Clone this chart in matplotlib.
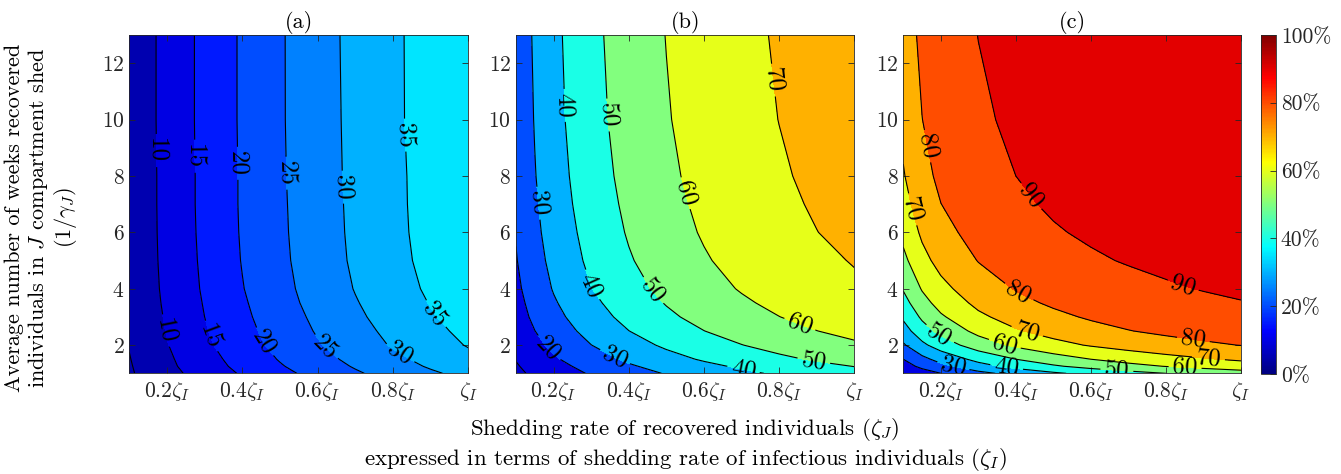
import numpy as np
import matplotlib
matplotlib.use("Agg")
import matplotlib.pyplot as plt
from matplotlib.cm import ScalarMappable
from matplotlib.colors import Normalize, LinearSegmentedColormap

plt.rcParams['font.family'] = 'cmr10'
plt.rcParams['mathtext.fontset'] = 'cm'
plt.rcParams['axes.formatter.use_mathtext'] = True

# shedding rate of J (fraction of zeta_I) and 1/gamma_J in weeks
shed = [0.1, 0.15, 0.2, 0.3, 0.4, 0.5, 0.6, 0.7, 0.8, 0.9, 1.0]
weeks = [1, 1.25, 1.5, 2, 2.5, 3, 3.5, 4, 5, 6, 7, 8, 10, 13]

# values (%), one row per entry of weeks
pct_a = [
    [4.4, 6.5, 8.4, 12.1, 15.5, 18.7, 21.6, 24.4, 26.9, 29.3, 31.5],
    [4.6, 6.8, 8.9, 12.8, 16.3, 19.6, 22.6, 25.4, 28.0, 30.5, 32.8],
    [4.8, 7.1, 9.2, 13.2, 16.9, 20.3, 23.4, 26.2, 28.9, 31.4, 33.7],
    [5.2, 7.6, 9.8, 14.1, 17.9, 21.4, 24.6, 27.6, 30.4, 32.9, 35.3],
    [5.4, 7.9, 10.2, 14.6, 18.5, 22.1, 25.4, 28.4, 31.2, 33.8, 36.2],
    [5.5, 8.1, 10.5, 15.0, 19.0, 22.7, 26.0, 29.1, 32.0, 34.6, 37.0],
    [5.7, 8.3, 10.8, 15.3, 19.4, 23.2, 26.6, 29.7, 32.5, 35.2, 37.6],
    [5.8, 8.5, 11.0, 15.6, 19.8, 23.6, 27.0, 30.2, 33.1, 35.7, 38.2],
    [5.9, 8.7, 11.2, 15.9, 20.2, 24.0, 27.5, 30.7, 33.6, 36.3, 38.7],
    [6.0, 8.8, 11.3, 16.1, 20.4, 24.2, 27.7, 30.9, 33.9, 36.5, 39.0],
    [6.0, 8.8, 11.4, 16.2, 20.5, 24.3, 27.8, 31.0, 34.0, 36.6, 39.1],
    [6.1, 8.8, 11.4, 16.2, 20.5, 24.4, 27.9, 31.1, 34.0, 36.7, 39.2],
    [6.1, 8.9, 11.5, 16.3, 20.6, 24.5, 28.0, 31.2, 34.2, 36.8, 39.3],
    [6.1, 8.9, 11.5, 16.3, 20.6, 24.5, 28.1, 31.3, 34.2, 36.9, 39.4],
]
pct_b = [
    [8.1, 11.7, 15.0, 20.9, 26.0, 30.6, 34.6, 38.1, 41.3, 44.2, 46.8],
    [9.2, 13.2, 16.8, 23.3, 28.8, 33.6, 37.7, 41.4, 44.7, 47.6, 50.2],
    [10.4, 14.8, 18.8, 25.8, 31.7, 36.7, 41.0, 44.8, 48.1, 51.1, 53.7],
    [12.4, 17.6, 22.1, 29.9, 36.2, 41.5, 46.0, 49.8, 53.2, 56.1, 58.7],
    [14.2, 19.9, 24.9, 33.2, 39.9, 45.4, 49.9, 53.7, 57.0, 59.9, 62.4],
    [15.8, 21.9, 27.2, 35.9, 42.8, 48.3, 52.9, 56.7, 59.9, 62.7, 65.2],
    [16.9, 23.4, 29.0, 38.0, 44.9, 50.5, 55.0, 58.8, 62.0, 64.7, 67.1],
    [18.0, 24.8, 30.6, 39.8, 46.8, 52.4, 56.9, 60.6, 63.8, 66.4, 68.8],
    [19.5, 26.6, 32.6, 42.1, 49.2, 54.8, 59.2, 62.9, 65.9, 68.5, 70.4],
    [20.5, 27.9, 34.0, 43.6, 50.8, 56.3, 60.8, 64.4, 67.4, 69.9, 72.1],
    [21.3, 28.8, 35.1, 44.8, 51.9, 57.4, 61.8, 65.4, 68.4, 70.8, 73.0],
    [21.9, 29.6, 35.9, 45.7, 52.8, 58.3, 62.7, 66.2, 69.1, 71.6, 73.7],
    [22.7, 30.5, 37.0, 46.8, 54.0, 59.4, 63.7, 67.2, 70.1, 72.5, 74.6],
    [23.3, 31.3, 37.7, 47.6, 54.8, 60.2, 64.5, 68.0, 70.8, 73.2, 75.2],
]
pct_c = [
    [11.1, 15.8, 20.0, 27.3, 33.3, 38.5, 42.9, 46.7, 50.0, 52.9, 55.6],
    [16.0, 22.2, 27.5, 36.3, 43.2, 48.7, 53.3, 57.1, 60.3, 63.1, 65.5],
    [20.0, 27.3, 33.3, 42.9, 50.0, 55.6, 60.0, 63.6, 66.7, 69.2, 71.4],
    [28.8, 37.8, 44.8, 54.9, 61.8, 66.9, 70.8, 73.9, 76.4, 78.5, 80.2],
    [35.9, 45.7, 52.8, 62.7, 69.1, 73.7, 77.1, 79.7, 81.8, 83.4, 84.8],
    [41.5, 51.6, 58.7, 68.1, 74.0, 78.0, 81.0, 83.3, 85.0, 86.5, 87.7],
    [46.5, 56.6, 63.5, 72.3, 77.7, 81.3, 83.9, 85.9, 87.4, 88.7, 89.7],
    [50.7, 60.7, 67.3, 75.6, 80.5, 83.7, 86.1, 87.8, 89.2, 90.3, 91.2],
    [57.6, 67.1, 73.1, 80.3, 84.5, 87.2, 89.1, 90.5, 91.6, 92.4, 93.2],
    [62.7, 71.6, 77.1, 83.4, 87.0, 89.4, 91.0, 92.2, 93.1, 93.8, 94.4],
    [66.6, 74.9, 79.9, 85.6, 88.8, 90.9, 92.3, 93.3, 94.1, 94.7, 95.2],
    [69.3, 77.2, 81.9, 87.1, 90.0, 91.9, 93.1, 94.1, 94.8, 95.3, 95.8],
    [72.6, 79.9, 84.1, 88.8, 91.4, 93.0, 94.1, 94.9, 95.5, 96.0, 96.4],
    [75.2, 82.0, 85.9, 90.1, 92.4, 93.8, 94.8, 95.5, 96.1, 96.5, 96.8],
]

levels_a = [5, 10, 15, 20, 25, 30, 35]
levels_b = [10, 20, 30, 40, 50, 60, 70]
levels_c = [10, 20, 30, 40, 50, 60, 70, 80, 90]

labels_a = [(0.164, 8.9), (0.19, 2.5), (0.27, 8.7), (0.314, 2.3), (0.385, 8.45),
            (0.451, 2.06), (0.518, 8.1), (0.615, 1.83), (0.66, 7.6), (0.814, 1.6),
            (0.832, 9.45), (0.916, 3.13)]
labels_b = [(0.784, 11.4), (0.221, 10.5), (0.301, 4.13), (0.341, 10.16), (0.461, 3.9),
            (0.891, 1.35), (0.155, 7.03), (0.359, 1.47), (0.549, 7.38), (0.851, 2.6),
            (0.182, 1.83), (0.705, 1.12)]
labels_c = [(0.158, 9.04), (0.402, 3.72), (0.873, 2.18), (0.438, 7.26), (0.842, 3.96),
            (0.118, 6.79), (0.429, 2.42), (0.913, 1.47), (0.371, 2.06), (0.851, 1.18),
            (0.193, 2.3), (0.669, 1.06), (0.375, 1.18), (0.233, 1.24)]

xtick_vals = [0.2, 0.4, 0.6, 0.8, 1.0]
xtick_text = [r'$0.2\zeta_I$', r'$0.4\zeta_I$', r'$0.6\zeta_I$', r'$0.8\zeta_I$', r'$\zeta_I$']
ytick_vals = [2, 4, 6, 8, 10, 12]
cbar_ticks = [0, 20, 40, 60, 80, 100]

# MATLAB's jet (its breakpoints differ a bit from matplotlib's)
jet = LinearSegmentedColormap.from_list('matlab_jet', [
    (0.0, (0, 0, 0.5)), (0.125, (0, 0, 1)), (0.375, (0, 1, 1)),
    (0.625, (1, 1, 0)), (0.875, (1, 0, 0)), (1.0, (0.5, 0, 0))])
axis_col = '#262626'

fig = plt.figure(figsize=(13.41, 4.74), dpi=100)
boxes = [[0.0964, 0.2124, 0.2528, 0.7137],
         [0.3848, 0.2124, 0.2523, 0.7137],
         [0.6736, 0.2124, 0.2518, 0.7137]]


def panel(box, z, levels, label_pos, title):
    ax = fig.add_axes(box)
    z = np.array(z)
    bounds = [0] + levels + [100]
    # each band takes the colour of its lower level, like contourf in MATLAB
    fills = [jet(z.min() / 100)] + [jet(l / 100) for l in levels]
    ax.contourf(shed, weeks, z, levels=bounds, colors=fills)
    cs = ax.contour(shed, weeks, z, levels=levels, colors='k', linewidths=0.8)
    ax.clabel(cs, manual=label_pos, inline=True, fontsize=18, fmt='%d', inline_spacing=4)
    ax.set_xlim(0.1, 1.0)
    ax.set_ylim(1, 13)
    ax.set_xticks(xtick_vals)
    ax.set_xticklabels(xtick_text)
    ax.set_yticks(ytick_vals)
    ax.tick_params(direction='in', top=True, right=True, length=4, width=0.6,
                   colors=axis_col, labelsize=15.5)
    ax.tick_params(axis='x', pad=5)
    for s in ax.spines.values():
        s.set_linewidth(0.6)
        s.set_color(axis_col)
    ax.set_title(title, fontsize=16, pad=5)
    return ax


panel(boxes[0], pct_a, levels_a, labels_a, '(a)')
panel(boxes[1], pct_b, levels_b, labels_b, '(b)')
panel(boxes[2], pct_c, levels_c, labels_c, '(c)')

cax = fig.add_axes([0.9401, 0.211, 0.0114, 0.7152])
cb = fig.colorbar(ScalarMappable(norm=Normalize(0, 100), cmap=jet), cax=cax, ticks=cbar_ticks)
cb.ax.set_yticklabels([f'{t}%' for t in cbar_ticks])
cb.ax.tick_params(direction='in', length=4, width=0.6, colors=axis_col, labelsize=15.5)
cb.outline.set_linewidth(0.6)
cb.outline.set_edgecolor(axis_col)

fig.text(0.031, 0.54,
         'Average number of weeks recovered\nindividuals in $J$ compartment shed\n$(1/\\gamma_J)$',
         rotation=90, ha='center', va='center', multialignment='center',
         fontsize=16, linespacing=1.1, color='k')
fig.text(0.5108, 0.093, r'Shedding rate of recovered individuals ($\zeta_J$)',
         ha='center', va='center', fontsize=16.5)
fig.text(0.5108, 0.03, r'expressed in terms of shedding rate of infectious individuals ($\zeta_I$)',
         ha='center', va='center', fontsize=16.5)

fig.savefig('out.png', dpi=100)
